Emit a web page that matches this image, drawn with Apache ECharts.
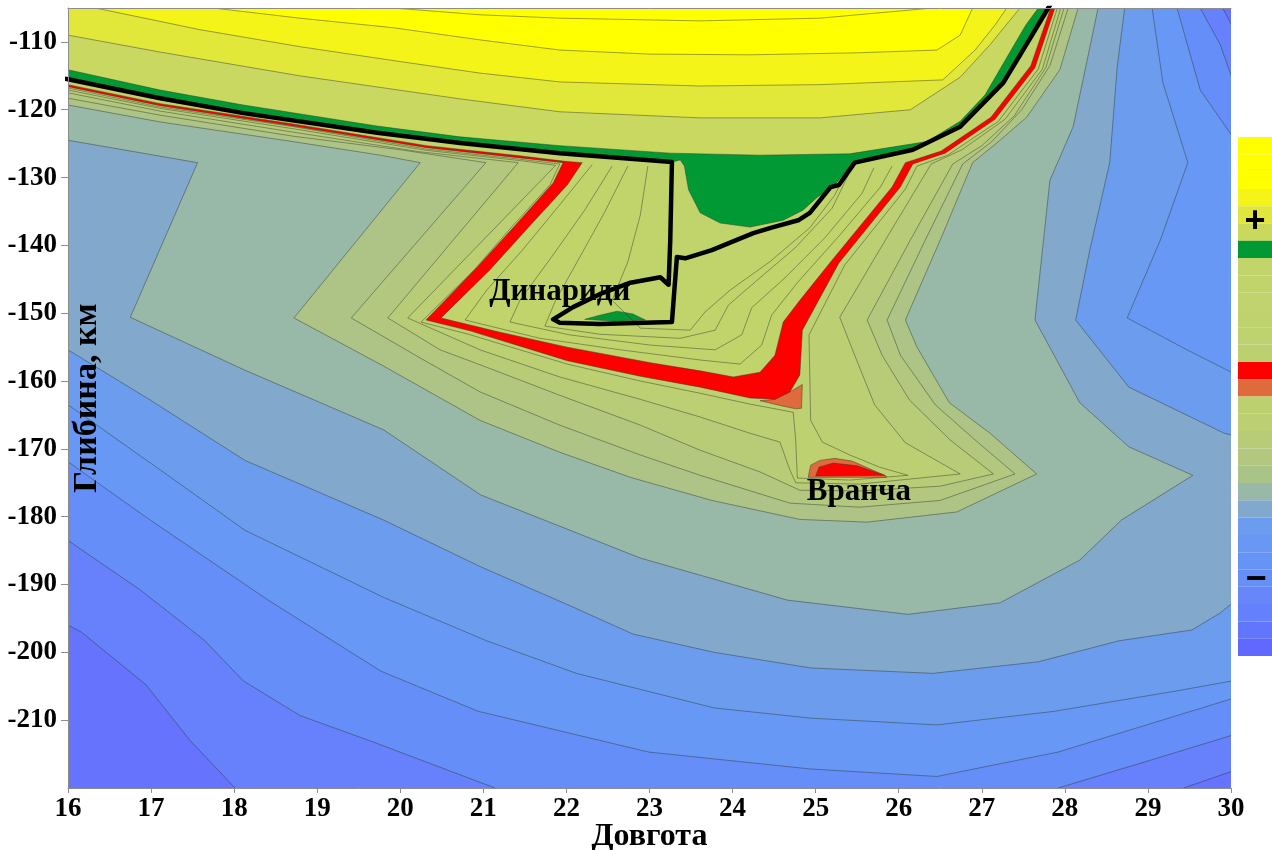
<!DOCTYPE html>
<html>
<head>
<meta charset="utf-8">
<title>Глибина / Довгота</title>
<script src="https://cdn.jsdelivr.net/npm/echarts@6/dist/echarts.min.js"></script>
<style>
  html, body { margin: 0; padding: 0; background: #fff; }
  #chart { width: 1272px; height: 850px; }
</style>
</head>
<body>
<div id="chart"></div>
<script>
var lonTicks = [16, 17, 18, 19, 20, 21, 22, 23, 24, 25, 26, 27, 28, 29, 30];
var depthTicks = [-110, -120, -130, -140, -150, -160, -170, -180, -190, -200, -210];

// contour regions [lon, depth]; outer points lie outside the frame
var frame = [[15.5, -100], [30.5, -100], [30.5, -225], [15.5, -225]];
var iso26 = [[15.5, -100], [15.5, -196.0], [16, -196.0], [16.16, -197.0], [16.94, -204.8], [17.47, -213.0], [18.01, -220.0], [18.01, -225], [29.43, -225], [29.43, -220], [30.02, -217.5], [30.5, -217.5], [30.5, -107.8], [30.02, -107.8], [29.90, -105], [29.90, -100]];
var iso25 = [[15.5, -100], [15.5, -183.5], [16, -183.5], [16.87, -190.8], [17.64, -198.2], [18.11, -204.2], [18.79, -209.3], [19.67, -213.2], [21.14, -220], [21.14, -225], [27.92, -225], [27.92, -220], [29.03, -215.9], [30.02, -212.2], [30.5, -212.2], [30.5, -115.6], [30.02, -115.6], [29.87, -110.4], [29.63, -105], [29.63, -100]];
var iso24 = [[15.5, -100], [15.5, -171.9], [16, -171.9], [16.99, -180.5], [18.41, -192.3], [19.77, -202.8], [20.94, -208.7], [22.99, -214.7], [24.94, -217.2], [26.46, -218.3], [27.92, -214.7], [30.02, -206.8], [30.5, -206.8], [30.5, -124.0], [30.02, -124.0], [29.63, -117.1], [29.35, -105], [29.35, -100]];
var iso23 = [[15.5, -100], [15.5, -163.5], [16, -163.5], [17.11, -173.1], [18.13, -182.0], [19.80, -191.9], [21.04, -198.3], [22.12, -203.1], [23.78, -208.2], [24.94, -209.7], [26.46, -210.7], [27.87, -208.7], [29.34, -205.7], [30.02, -204.2], [30.5, -204.2], [30.5, -158.8], [30.02, -158.8], [29.47, -155.4], [28.75, -150.7], [29.15, -139.2], [29.48, -127.8], [29.18, -116.0], [29.05, -105], [29.05, -100]];
var iso22 = [[15.5, -100], [15.5, -155.4], [16, -155.4], [16.99, -162.8], [18.13, -171.7], [19.80, -180.5], [20.97, -187.4], [22.02, -193.0], [22.80, -197.3], [23.78, -200.0], [24.94, -202.3], [26.41, -203.1], [27.68, -201.4], [28.65, -198.3], [29.53, -196.7], [29.87, -194.2], [30.02, -192.7], [30.5, -192.7], [30.5, -168.0], [30.02, -168.0], [29.92, -167.7], [28.77, -160.9], [28.13, -151.0], [28.30, -140.7], [28.54, -127.8], [28.63, -113.7], [28.72, -105], [28.72, -100]];
var iso21 = [[15.5, -100], [15.5, -124.5], [16, -124.5], [17.56, -127.8], [16.75, -150.6], [18.13, -158.4], [19.80, -167.2], [20.97, -176.8], [22.89, -186.1], [24.66, -192.3], [26.11, -194.4], [27.22, -192.7], [28.18, -186.4], [28.68, -180.5], [29.54, -173.9], [28.77, -169.7], [28.18, -163.2], [27.64, -151.0], [27.73, -140.7], [27.82, -130.4], [28.10, -122.5], [28.40, -105], [28.40, -100]];
var iso20 = [[15.5, -100], [15.5, -119.3], [16, -119.3], [17.11, -121.8], [18.71, -124.7], [19.76, -126.7], [20.24, -127.8], [18.72, -150.7], [19.80, -157.8], [20.96, -165.8], [21.92, -170.5], [22.77, -174.2], [23.75, -177.6], [24.81, -180.4], [25.62, -180.8], [26.70, -179.3], [27.66, -173.7], [27.10, -167.7], [26.61, -163.2], [26.22, -155.0], [26.08, -151.0], [26.50, -139.2], [26.89, -127.8], [27.22, -124.5], [27.54, -121.1], [27.94, -114.1], [28.16, -105], [28.16, -100]];
var iso19 = [[15.5, -100], [15.5, -118.3], [16, -118.3], [17.11, -120.8], [18.71, -123.9], [20.00, -125.9], [21.03, -127.8], [19.41, -150.7], [20.24, -156.6], [20.96, -161.6], [21.92, -166.5], [22.89, -170.9], [23.61, -173.9], [24.69, -178.0], [25.53, -178.6], [26.50, -177.6], [27.40, -173.7], [26.92, -168.7], [26.44, -163.5], [26.02, -156.2], [25.86, -151.0], [26.32, -139.2], [26.77, -128.0], [27.12, -124.7], [27.48, -120.0], [27.82, -113.5], [28.04, -105], [28.04, -100]];
var iso18 = [[15.5, -100], [15.5, -117.5], [16, -117.5], [17.11, -120.2], [18.71, -123.3], [20.24, -126.2], [21.42, -127.8], [19.85, -150.7], [20.48, -155.4], [20.96, -157.6], [21.92, -162.1], [22.89, -166.5], [23.61, -170.2], [24.33, -173.4], [24.81, -176.1], [25.53, -176.2], [26.50, -175.5], [27.14, -173.7], [26.62, -168.7], [26.13, -162.8], [25.80, -156.2], [25.62, -151.0], [26.14, -139.2], [26.65, -128.0], [27.00, -125.3], [27.39, -120.9], [27.77, -113.8], [27.99, -105], [27.99, -100]];
var iso17 = [[15.5, -100], [15.5, -117.1], [16, -117.1], [17.11, -119.8], [18.71, -122.8], [20.32, -126.0], [21.44, -127.5], [21.87, -128.2], [20.09, -150.7], [20.96, -155.4], [21.92, -159.4], [22.89, -162.7], [23.61, -165.3], [24.21, -167.7], [24.57, -169.0], [24.69, -173.1], [24.76, -175.0], [25.53, -175.2], [26.74, -173.7], [26.08, -169.1], [25.71, -163.5], [25.47, -156.2], [25.29, -150.6], [25.84, -139.2], [26.39, -128.0], [26.76, -125.9], [27.28, -121.4], [27.73, -114.0], [27.95, -105], [27.95, -100]];
var iso16 = [[15.5, -100], [15.5, -116.8], [16, -116.8], [17.11, -119.6], [18.71, -122.5], [20.32, -125.8], [21.44, -127.3], [21.92, -128.0], [21.80, -131.1], [21.34, -137.3], [20.89, -143.6], [20.25, -151.3], [20.82, -153.1], [22.01, -157.5], [22.89, -160.0], [23.61, -161.8], [24.21, -163.4], [24.73, -164.6], [24.76, -168.7], [24.78, -174.3], [25.41, -174.6], [26.11, -173.9], [25.77, -172.7], [25.41, -170.9], [25.08, -169.0], [24.94, -165.8], [24.92, -153.2], [25.35, -142.9], [26.08, -131.7], [26.22, -128.3], [26.59, -126.7], [27.20, -121.7], [27.68, -114.0], [27.91, -105], [27.91, -100]];
var vranceaOrange = [[24.91, -174.2], [24.94, -172.4], [25.05, -171.7], [25.23, -171.4], [25.44, -171.8], [25.85, -174.0], [25.85, -174.2]];
var vranceaRed = [[25.00, -174.0], [25.04, -172.7], [25.21, -172.1], [25.50, -172.5], [25.83, -173.9]];
var orangeBlob = [[24.33, -162.9], [24.57, -163.6], [24.76, -164.1], [24.83, -164.0], [24.84, -160.5], [24.69, -161.6], [24.51, -162.7]];
var redOuter = [[15.5, -100], [15.5, -116.6], [16, -116.6], [17.11, -119.4], [18.71, -122.4], [20.32, -125.6], [21.44, -127.1], [21.96, -127.8], [21.84, -130.8], [21.38, -137.1], [20.92, -143.3], [20.31, -151.0], [20.84, -152.6], [22.01, -157.0], [22.89, -159.3], [23.61, -160.9], [24.21, -162.5], [24.51, -162.7], [24.69, -161.6], [24.81, -159.1], [24.84, -152.5], [25.28, -142.6], [26.02, -131.4], [26.17, -128.0], [26.56, -126.4], [27.16, -121.4], [27.64, -113.8], [27.88, -105], [27.88, -100]];
var redInner = [[15.5, -100], [15.5, -116.3], [16, -116.3], [17.11, -119.1], [18.71, -122.1], [20.32, -125.3], [21.44, -126.8], [21.98, -127.6], [22.19, -127.8], [22.01, -131.1], [21.56, -137.1], [21.08, -143.6], [20.49, -150.7], [21.20, -152.8], [22.01, -155.0], [23.01, -157.3], [23.61, -158.5], [24.01, -159.4], [24.33, -158.7], [24.51, -156.2], [24.61, -151.3], [24.81, -148.1], [25.17, -142.6], [25.92, -131.4], [26.08, -127.8], [26.51, -126.1], [27.11, -121.1], [27.59, -113.5], [27.83, -105], [27.83, -100]];
var greenBand = [[15.5, -100], [15.5, -115.5], [16, -115.5], [17.11, -118.3], [18.11, -120.5], [19.72, -123.4], [20.72, -124.9], [21.92, -126.4], [23.27, -127.7], [23.37, -127.4], [23.42, -128.3], [23.47, -131.8], [23.61, -135.2], [23.85, -136.7], [24.21, -137.3], [24.61, -136.3], [24.85, -134.8], [25.02, -132.9], [25.21, -131.4], [25.45, -127.8], [26.17, -125.9], [26.74, -122.5], [27.26, -116.0], [27.62, -108.7], [27.80, -105], [27.80, -100]];
var greenSpot = [[22.22, -150.9], [22.40, -150.3], [22.61, -149.7], [22.80, -150.1], [22.95, -151.0], [22.60, -151.2]];
var greenTop = [[15.5, -100], [15.5, -114.1], [16, -114.1], [17.11, -117.1], [18.11, -119.3], [19.72, -122.4], [20.72, -124.0], [21.92, -125.3], [23.25, -126.4], [24.33, -126.7], [25.41, -126.5], [26.34, -124.7], [26.74, -121.7], [27.04, -117.8], [27.32, -111.9], [27.53, -107.5], [27.68, -105], [27.68, -100]];
var isoC = [[15.5, -100], [15.5, -109.0], [16, -109.0], [17.11, -111.5], [18.79, -115.0], [20.72, -118.4], [21.92, -120.3], [23.61, -121.2], [25.05, -121.2], [26.14, -120.0], [26.74, -115.2], [27.10, -110.4], [27.46, -105], [27.46, -100]];
var isoB = [[16.33, -100], [16.33, -105], [17.59, -108.2], [18.79, -110.7], [20.00, -112.9], [20.96, -114.6], [21.92, -115.9], [23.61, -116.5], [25.05, -116.3], [26.53, -115.6], [26.92, -111.2], [27.16, -107.5], [27.30, -105], [27.30, -100]];
var yellowEdge = [[17.75, -100], [17.75, -105.0], [18.79, -106.5], [19.91, -107.9], [20.96, -109.7], [21.92, -111.2], [23.01, -111.8], [24.21, -111.9], [25.53, -111.6], [26.46, -111.2], [26.74, -109.0], [26.89, -105.0], [26.89, -100]];
var yellowInner = [[19.91, -100], [19.91, -105.0], [20.96, -106.0], [21.92, -106.5], [23.61, -106.9], [25.05, -106.5], [26.41, -105.0], [26.41, -100]];

// thin isolines inside the Dinarides triangle
var inner12 = [[22.31, -128.1], [21.92, -134.0], [21.47, -140.7], [21.04, -146.6], [20.78, -151.0], [21.68, -153.7], [22.65, -155.4], [23.61, -156.9], [24.09, -157.5], [24.35, -154.7], [24.47, -150.3], [24.78, -145.5], [25.29, -138.5], [25.78, -131.4], [25.92, -128.3]];
var inner11 = [[22.55, -128.3], [22.22, -134.8], [21.84, -141.4], [21.44, -148.1], [21.32, -151.3], [22.04, -153.2], [23.01, -154.7], [23.79, -155.4], [24.11, -153.2], [24.23, -149.2], [24.63, -144.8], [25.11, -138.9], [25.56, -132.3], [25.70, -128.6]];
var inner10 = [[22.74, -128.3], [22.46, -135.1], [22.14, -142.2], [21.87, -148.1], [21.74, -151.9], [22.40, -153.1], [23.37, -153.7], [23.79, -152.5], [23.95, -148.8], [24.27, -145.4], [24.75, -140.4], [25.20, -134.5], [25.41, -129.2]];
var inner9 = [[22.98, -128.3], [22.89, -135.5], [22.74, -142.4], [22.55, -148.1], [22.89, -152.2], [23.49, -152.5], [23.67, -149.8], [23.97, -146.6], [24.45, -142.4], [24.93, -137.4], [25.23, -132.6], [25.35, -129.6]];

// thick black outline
var blackLine = [[15.9, -115.3], [16, -115.5], [17.11, -118.3], [18.11, -120.5], [19.72, -123.4], [20.72, -124.9], [21.92, -126.4], [23.27, -127.7], [23.25, -139.2], [23.23, -145.8], [23.13, -144.7], [22.77, -145.5], [22.40, -147.2], [22.08, -149.1], [21.84, -150.9], [21.92, -151.4], [22.40, -151.6], [23.27, -151.3], [23.33, -141.7], [23.43, -141.9], [23.75, -140.7], [24.25, -138.2], [24.49, -137.3], [24.79, -136.3], [24.93, -135.2], [25.18, -131.4], [25.28, -131.1], [25.47, -127.8], [26.17, -125.9], [26.74, -122.5], [27.26, -116.0], [27.62, -108.7], [27.80, -105], [27.85, -104]];

var placeNames = ['Динариди', 'Вранча'];
var placeLon = [21.92, 25.52];
var placeDepth = [-146.9, -176.4];

// colour scale, top to bottom
var scaleLevels = [0, 1, 2, 3, 4, 5, 6, 7, 8, 9, 10, 11, 12, 13, 14, 15, 16, 17, 18, 19, 20, 21, 22, 23, 24, 25, 26, 27, 28, 29];
var scaleColors = ['#ffff00', '#ffff00', '#ffff00', '#f4f418', '#e0e63e', '#cad95c', '#009933', '#c2d56a', '#c1d46c', '#c0d36d', '#bfd26e', '#bed26f', '#bdd070', '#ff0000', '#df6a3b', '#bdd070', '#bccf72', '#b8cc78', '#b3c87e', '#aac488', '#98b8a8', '#82a8cc', '#6c9cee', '#6898f4', '#6694f6', '#6690f8', '#6686fa', '#6480fb', '#6276fd', '#6068ff'];

var bandList = [frame, iso26, iso25, iso24, iso23, iso22, iso21, iso20, iso19, iso18, iso17, iso16,
  vranceaOrange, vranceaRed, orangeBlob, redOuter, redInner, greenBand, greenSpot, greenTop, isoC, isoB, yellowEdge, yellowInner];
var bandFill = ['#6573fd', '#6681fb', '#668ef9', '#6898f5', '#6c9cee', '#82a8cc', '#98b8a8', '#adc486', '#b3c87e', '#b8cc78', '#bccf72', '#bed170',
  '#df6a3b', '#ff0000', '#df6a3b', '#ff0000', '#c1d46c', '#009933', '#009933', '#c8d860', '#e2e83a', '#f4f418', '#ffff00', '#ffff00'];
var innerList = [inner12, inner11, inner10, inner9];

var isoStroke = 'rgba(45,55,45,0.65)';
var serif = "'Liberation Serif', 'Times New Roman', serif";

var chart = echarts.init(document.getElementById('chart'));

function renderBand(params, api) {
  var pts = bandList[params.dataIndex].map(function (p) { return api.coord(p); });
  return {
    type: 'polygon',
    shape: { points: pts },
    style: {
      fill: bandFill[params.dataIndex],
      stroke: params.dataIndex === 0 ? null : isoStroke,
      lineWidth: 0.7
    }
  };
}

function renderInner(params, api) {
  var pts = innerList[params.dataIndex].map(function (p) { return api.coord(p); });
  return {
    type: 'polyline',
    shape: { points: pts },
    style: { fill: 'none', stroke: isoStroke, lineWidth: 0.7 }
  };
}

function renderSwatch(params, api) {
  var i = api.value(0);
  var a = api.coord([0, i]);
  var b = api.coord([1, i + 1]);
  return {
    type: 'rect',
    shape: { x: a[0], y: a[1], width: b[0] - a[0], height: b[1] - a[1] },
    style: { fill: scaleColors[i] }
  };
}

var option = {
  backgroundColor: '#fff',
  animation: false,
  grid: [
    { left: 68, top: 8, width: 1163, height: 780, containLabel: false, outerBoundsMode: 'none' },
    { left: 1238, top: 137, width: 34, height: 519, containLabel: false, outerBoundsMode: 'none' }
  ],
  xAxis: [
    {
      type: 'value', gridIndex: 0, min: 16, max: 30, interval: 1, position: 'bottom', z: 10,
      axisLine: { show: true, lineStyle: { color: '#8c8c8c' } },
      axisTick: { show: true, length: 5, customValues: lonTicks, lineStyle: { color: '#8c8c8c' } },
      axisLabel: { customValues: lonTicks, margin: 8, color: '#000', fontSize: 27, fontWeight: 'bold', fontFamily: serif },
      splitLine: { show: false },
      name: 'Довгота', nameLocation: 'middle', nameGap: 33, nameMoveOverlap: false,
      nameTextStyle: { color: '#000', fontSize: 32, fontWeight: 'bold', fontFamily: serif }
    },
    {
      type: 'value', gridIndex: 0, min: 16, max: 30, position: 'top', z: 10,
      axisLine: { show: true, lineStyle: { color: '#8c8c8c' } },
      axisTick: { show: false }, axisLabel: { show: false }, splitLine: { show: false }
    },
    { type: 'value', gridIndex: 1, min: 0, max: 1, show: false }
  ],
  yAxis: [
    {
      type: 'value', gridIndex: 0, min: -220, max: -105, interval: 10, z: 10,
      axisLine: { show: true, lineStyle: { color: '#8c8c8c' } },
      axisTick: { show: true, length: 7, customValues: depthTicks, lineStyle: { color: '#8c8c8c' } },
      axisLabel: { customValues: depthTicks, margin: 11, color: '#000', fontSize: 27, fontWeight: 'bold', fontFamily: serif },
      splitLine: { show: false },
      name: 'Глибина, км', nameLocation: 'middle', nameGap: -36, nameMoveOverlap: false,
      nameTextStyle: { color: '#000', fontSize: 34, fontWeight: 'bold', fontFamily: serif }
    },
    { type: 'value', gridIndex: 1, min: 0, max: 30, inverse: true, show: false }
  ],
  series: [
    {
      type: 'custom', name: 'bands', xAxisIndex: 0, yAxisIndex: 0, clip: true, silent: true, z: 1,
      renderItem: renderBand,
      data: bandList.map(function (b, i) { return [i]; })
    },
    {
      type: 'custom', name: 'isolines', xAxisIndex: 0, yAxisIndex: 0, clip: true, silent: true, z: 2,
      renderItem: renderInner,
      data: innerList.map(function (b, i) { return [i]; })
    },
    {
      type: 'line', name: 'outline', xAxisIndex: 0, yAxisIndex: 0, data: blackLine,
      showSymbol: false, symbol: 'none', silent: true, clip: true, z: 5,
      lineStyle: { color: '#000', width: 4.5, join: 'round', cap: 'round' }
    },
    {
      type: 'scatter', name: 'places', xAxisIndex: 0, yAxisIndex: 0, symbolSize: 0, silent: true, z: 8,
      itemStyle: { opacity: 1 },
      data: placeNames.map(function (n, i) { return { name: n, value: [placeLon[i], placeDepth[i]] }; }),
      label: {
        show: true, position: 'inside', formatter: '{b}', color: '#000', opacity: 1,
        fontSize: 31, fontWeight: 'bold', fontFamily: serif
      }
    },
    {
      type: 'custom', name: 'scale', xAxisIndex: 2, yAxisIndex: 1, silent: true,
      renderItem: renderSwatch,
      data: scaleLevels.map(function (v) { return [v]; })
    }
  ],
  graphic: [
    { type: 'text', x: 1255, y: 222, z: 100, style: { text: '+', fill: '#000', font: "bold 36px 'Liberation Sans', sans-serif", align: 'center', verticalAlign: 'middle' } },
    { type: 'text', x: 1256, y: 580, z: 100, style: { text: '\u2212', fill: '#000', font: "bold 36px 'Liberation Sans', sans-serif", align: 'center', verticalAlign: 'middle' } }
  ]
};

chart.setOption(option);
</script>
</body>
</html>
